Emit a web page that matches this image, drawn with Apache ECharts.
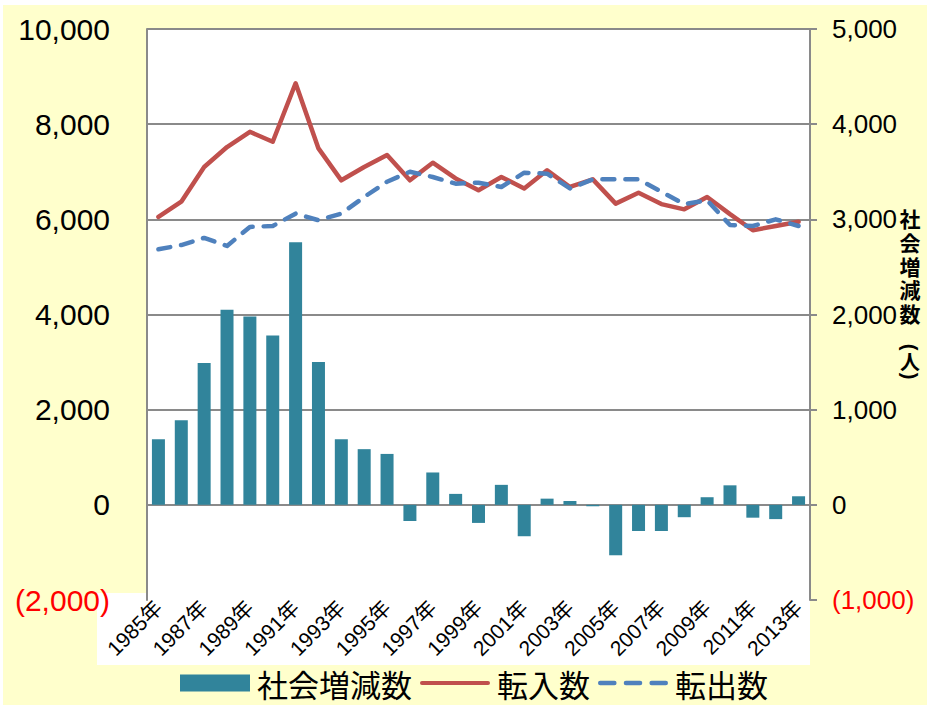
<!DOCTYPE html>
<html><head><meta charset="utf-8">
<script src="https://cdn.jsdelivr.net/npm/echarts@6/dist/echarts.min.js"></script>
<style>html,body{margin:0;padding:0;background:#fff;}#c{width:930px;height:707px;}</style>
</head><body><div id="c"></div>
<script>
const years = ['1985年','1986年','1987年','1988年','1989年','1990年','1991年','1992年','1993年','1994年','1995年','1996年','1997年','1998年','1999年','2000年','2001年','2002年','2003年','2004年','2005年','2006年','2007年','2008年','2009年','2010年','2011年','2012年','2013年'];
const socialChange = [690, 890, 1490, 2050, 1980, 1780, 2760, 1500, 690, 585, 535, -170, 340, 115, -190, 210, -330, 65, 40, -15, -530, -275, -275, -130, 80, 205, -135, -150, 90];
const inflow = [6050, 6370, 7100, 7520, 7840, 7630, 8860, 7490, 6820, 7100, 7350, 6820, 7190, 6860, 6610, 6890, 6650, 7030, 6680, 6840, 6330, 6560, 6320, 6210, 6470, 6110, 5770, 5860, 5950];
const outflow = [5370, 5460, 5610, 5440, 5840, 5860, 6120, 5980, 6120, 6470, 6790, 7000, 6890, 6750, 6770, 6680, 6980, 6960, 6650, 6840, 6840, 6840, 6580, 6320, 6400, 5880, 5860, 6000, 5860];
const seriesNames = ['社会増減数', '転入数', '転出数'];
const rightAxisTitle = ['社', '会', '増', '減', '数'];

const fmt = v => v < 0 ? '(' + Math.abs(v).toLocaleString('en-US') + ')' : v.toLocaleString('en-US');
const numFont = 'Liberation Sans, Arial, sans-serif';
const cjkFont = 'Noto Sans CJK JP, sans-serif';
const grey = '#8a8a8a';
const solidIcon = 'path://M2,0 h66 a2,2 0 0 1 0,4 h-66 a2,2 0 0 1 0,-4 z';
const dashIcon = 'path://M2,0 h13 a2,2 0 0 1 0,4 h-13 a2,2 0 0 1 0,-4 z M25.5,0 h13 a2,2 0 0 1 0,4 h-13 a2,2 0 0 1 0,-4 z M49,0 h13 a2,2 0 0 1 0,4 h-13 a2,2 0 0 1 0,-4 z';

const titleTexts = rightAxisTitle.map((ch, i) => ({
  type: 'text', z: 100, x: 910, y: 218 + i * 23.8,
  style: {text: ch, font: 'bold 21px ' + cjkFont, fill: '#000', align: 'center', verticalAlign: 'middle'}
}));

const chart = echarts.init(document.getElementById('c'), null, {renderer: 'svg'});
chart.setOption({
  animation: false,
  backgroundColor: '#ffffff',
  graphic: [
    {type: 'rect', z: -100, shape: {x: 3, y: 5, width: 924, height: 700}, style: {fill: '#FFFFCC'}, silent: true},
    {type: 'rect', z: -90, shape: {x: 97, y: 593, width: 713, height: 72}, style: {fill: '#ffffff'}, silent: true},
    ...titleTexts,
    {type: 'text', z: 100, x: 910, y: 347, rotation: -Math.PI / 2, style: {text: '(', font: 'bold 20px ' + numFont, fill: '#000', align: 'center', verticalAlign: 'middle'}},
    {type: 'text', z: 100, x: 910, y: 361, style: {text: '人', font: 'bold 20px ' + cjkFont, fill: '#000', align: 'center', verticalAlign: 'middle'}},
    {type: 'text', z: 100, x: 910, y: 376, rotation: -Math.PI / 2, style: {text: ')', font: 'bold 20px ' + numFont, fill: '#000', align: 'center', verticalAlign: 'middle'}}
  ],
  grid: {left: 147, right: 120, top: 29, bottom: 107, show: true, backgroundColor: '#ffffff', borderWidth: 0},
  legend: {
    left: 175, top: 662, itemWidth: 70, itemHeight: 17, itemGap: 8,
    textStyle: {fontFamily: cjkFont, fontSize: 31, lineHeight: 32, color: '#000', padding: [0, 0, 0, 2]},
    data: [
      {name: seriesNames[0], icon: 'rect'},
      {name: seriesNames[1], icon: solidIcon},
      {name: seriesNames[2], icon: dashIcon}
    ]
  },
  xAxis: {
    type: 'category', data: years,
    axisLine: {show: false, onZero: false},
    axisTick: {show: false},
    axisLabel: {interval: 1, rotate: 45, margin: 4, fontFamily: numFont + ', ' + cjkFont, fontSize: 21, color: '#000'}
  },
  yAxis: [
    {
      type: 'value', min: -2000, max: 10000, interval: 2000, position: 'left',
      axisLine: {show: true, lineStyle: {color: grey, width: 2}},
      axisTick: {show: false},
      axisLabel: {margin: 37, fontFamily: numFont, fontSize: 30, formatter: fmt,
        color: v => Number(v) < 0 ? '#ff0000' : '#000'},
      splitLine: {show: true, lineStyle: {color: ['rgba(0,0,0,0)', grey, grey, grey, grey, grey, grey], width: 2}}
    },
    {
      type: 'value', min: -1000, max: 5000, interval: 1000, position: 'right',
      axisLine: {show: true, lineStyle: {color: grey, width: 2}},
      axisTick: {show: true, inside: false, length: 7, lineStyle: {color: grey, width: 2}},
      axisLabel: {margin: 22, fontFamily: numFont, fontSize: 26, formatter: fmt,
        color: v => Number(v) < 0 ? '#ff0000' : '#000'},
      splitLine: {show: false}
    }
  ],
  series: [
    {name: seriesNames[0], type: 'bar', yAxisIndex: 1, data: socialChange, barWidth: 13,
      itemStyle: {color: '#31849B'}},
    {name: seriesNames[1], type: 'line', yAxisIndex: 0, data: inflow, symbol: 'none',
      lineStyle: {color: '#C0504D', width: 4.5, cap: 'round', join: 'round'}, itemStyle: {color: '#C0504D'}},
    {name: seriesNames[2], type: 'line', yAxisIndex: 0, data: outflow, symbol: 'none',
      lineStyle: {color: '#4F81BD', width: 4.5, type: [12, 11], cap: 'round', join: 'round'}, itemStyle: {color: '#4F81BD'}}
  ]
});
</script></body></html>
